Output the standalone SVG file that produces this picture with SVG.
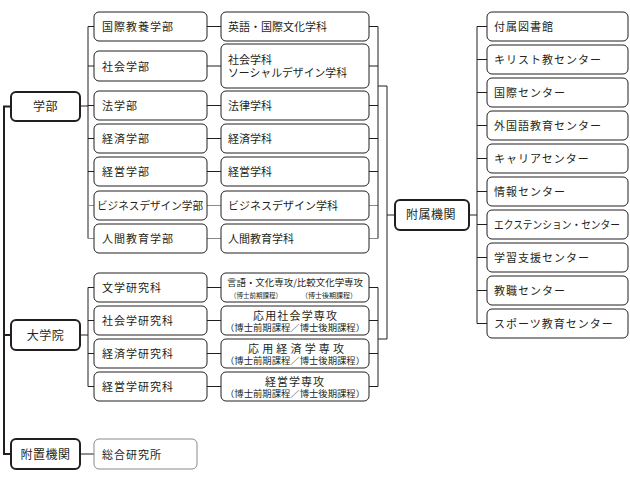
<svg xmlns="http://www.w3.org/2000/svg" width="630" height="480" viewBox="0 0 630 480">
<style>
.b{fill:#fff;stroke:#231f20;stroke-width:1}
.m{fill:#fff;stroke:#231f20;stroke-width:2}
.g{fill:#fff;stroke:#8a8a8a;stroke-width:1}
.t{font-family:"Noto Sans CJK JP","Noto Sans CJK SC",sans-serif;font-size:11px;fill:#231f20}
.s{letter-spacing:1px}
.c{text-anchor:middle}
.L{font-size:12px;letter-spacing:0.5px}
.w{fill:none;stroke:#231f20;stroke-width:1}
.wg{fill:none;stroke:#8a8a8a;stroke-width:1.2}
.wt{fill:none;stroke:#231f20;stroke-width:2}
.p{font-size:9px}
</style>
<rect width="630" height="480" fill="#fff"/>
<g id="connectors">
<path class="wt" d="M11,106.5H4V454H11M4,335H11"/>
<path class="w" d="M80,106H88M88,26.5V238.5M88,26.5H94M88,66H94M88,105.5H94M88,138.5H94M88,171.5H94"/>
<path class="wg" d="M88,205.5H94M88,238.5H94M207,205.5H221M207,238.5H221M369,205.5H378M369,238.5H378"/>
<path class="w" d="M207,26.5H221M207,66H221M207,105.5H221M207,138.5H221M207,171.5H221"/>
<path class="w" d="M369,26.5H378M369,66H378M369,105.5H378M369,138.5H378M369,171.5H378M378,26.5V238.5"/>
<path class="w" d="M378,86H387V339H378M387,215H395"/>
<path class="w" d="M80,335H88M88,287.5V386.5M88,287.5H94M88,320.5H94M88,353.5H94M88,386.5H94"/>
<path class="w" d="M207,287.5H221M207,320.5H221M207,353.5H221M207,386.5H221"/>
<path class="w" d="M369,287.5H378M369,320.5H378M369,353.5H378M369,386.5H378M378,287.5V386.5"/>
<path class="w" d="M469,215H477M477,26.5V323.5M477,26.5H487M477,59.5H487M477,92.5H487M477,125.5H487M477,158.5H487M477,191.5H487M477,224.5H487M477,257.5H487M477,290.5H487M477,323.5H487"/>
<path class="w" d="M80,454H94"/>
</g>
<g id="gakubu"><rect class="m" x="11" y="92" width="69" height="29" rx="5"/><text class="t c L" x="45.5" y="111">学部</text></g>
<g id="daigakuin"><rect class="m" x="11" y="320" width="69" height="30" rx="5"/><text class="t c L" x="45.5" y="339.5">大学院</text></g>
<g id="fuchikikan"><rect class="m" x="11" y="439" width="69" height="30" rx="5"/><text class="t c L" x="45.5" y="458.5">附置機関</text></g>

<g id="f1"><rect class="b" x="94" y="12" width="113" height="29" rx="5"/><text class="t s" x="102" y="31">国際教養学部</text></g>
<g id="f2"><rect class="b" x="94" y="51" width="113" height="30" rx="5"/><text class="t s" x="102" y="70.5">社会学部</text></g>
<g id="f3"><rect class="b" x="94" y="91" width="113" height="29" rx="5"/><text class="t s" x="102" y="110">法学部</text></g>
<g id="f4"><rect class="b" x="94" y="124" width="113" height="29" rx="5"/><text class="t s" x="102" y="143">経済学部</text></g>
<g id="f5"><rect class="b" x="94" y="157" width="113" height="29" rx="5"/><text class="t s" x="102" y="176">経営学部</text></g>
<g id="f6"><rect class="b" x="94" y="191" width="113" height="29" rx="5"/><text class="t" x="97" y="210" textLength="106" lengthAdjust="spacingAndGlyphs">ビジネスデザイン学部</text></g>
<g id="f7"><rect class="b" x="94" y="224" width="113" height="29" rx="5"/><text class="t s" x="102" y="243">人間教育学部</text></g>

<g id="d1"><rect class="b" x="221" y="12" width="148" height="29" rx="5"/><text class="t" x="228" y="31">英語・国際文化学科</text></g>
<g id="d2"><rect class="b" x="221" y="44" width="148" height="44" rx="5"/><text class="t" x="228" y="63.5">社会学科</text><text class="t" x="228" y="77" textLength="119" lengthAdjust="spacingAndGlyphs">ソーシャルデザイン学科</text></g>
<g id="d3"><rect class="b" x="221" y="91" width="148" height="29" rx="5"/><text class="t" x="228" y="110">法律学科</text></g>
<g id="d4"><rect class="b" x="221" y="124" width="148" height="29" rx="5"/><text class="t" x="228" y="143">経済学科</text></g>
<g id="d5"><rect class="b" x="221" y="157" width="148" height="29" rx="5"/><text class="t" x="228" y="176">経営学科</text></g>
<g id="d6"><rect class="b" x="221" y="191" width="148" height="29" rx="5"/><text class="t" x="228" y="210">ビジネスデザイン学科</text></g>
<g id="d7"><rect class="b" x="221" y="224" width="148" height="29" rx="5"/><text class="t" x="228" y="243">人間教育学科</text></g>

<g id="gf1"><rect class="b" x="94" y="273" width="113" height="29" rx="5"/><text class="t s" x="102" y="292">文学研究科</text></g>
<g id="gf2"><rect class="b" x="94" y="306" width="113" height="29" rx="5"/><text class="t s" x="102" y="325">社会学研究科</text></g>
<g id="gf3"><rect class="b" x="94" y="339" width="113" height="29" rx="5"/><text class="t s" x="102" y="358">経済学研究科</text></g>
<g id="gf4"><rect class="b" x="94" y="372" width="113" height="29" rx="5"/><text class="t s" x="102" y="391">経営学研究科</text></g>

<g id="gd1"><rect class="b" x="221" y="273" width="148" height="29" rx="5"/><text class="t" x="227" y="286" style="font-size:9.5px" textLength="136" lengthAdjust="spacingAndGlyphs">言語・文化専攻/比較文化学専攻</text><text class="t" x="230" y="297.5" style="font-size:7px" textLength="52" lengthAdjust="spacingAndGlyphs">（博士前期課程）</text><text class="t" x="301" y="297.5" style="font-size:7px" textLength="56" lengthAdjust="spacingAndGlyphs">（博士後期課程）</text></g>
<g id="gd2"><rect class="b" x="221" y="306" width="148" height="29" rx="5"/><text class="t" x="253" y="319.5" textLength="84" lengthAdjust="spacing">応用社会学専攻</text><text class="t p" x="225" y="331" textLength="140" lengthAdjust="spacingAndGlyphs">（博士前期課程／博士後期課程）</text></g>
<g id="gd3"><rect class="b" x="221" y="339" width="148" height="29" rx="5"/><text class="t" x="248" y="352.5" textLength="96" lengthAdjust="spacing">応用経済学専攻</text><text class="t p" x="225" y="364" textLength="140" lengthAdjust="spacingAndGlyphs">（博士前期課程／博士後期課程）</text></g>
<g id="gd4"><rect class="b" x="221" y="372" width="148" height="29" rx="5"/><text class="t" x="265" y="385.5" textLength="59" lengthAdjust="spacing">経営学専攻</text><text class="t p" x="225" y="397" textLength="140" lengthAdjust="spacingAndGlyphs">（博士前期課程／博士後期課程）</text></g>

<g id="soken"><rect class="g" x="94" y="439" width="103" height="30" rx="5"/><text class="t s" x="102" y="458.5">総合研究所</text></g>

<g id="fuzoku"><rect class="m" x="395" y="200" width="74" height="30" rx="5"/><text class="t c L" x="431" y="218.5">附属機関</text></g>

<g id="c1"><rect class="b" x="487" y="12" width="141" height="29" rx="5"/><text class="t s" x="494" y="31">付属図書館</text></g>
<g id="c2"><rect class="b" x="487" y="45" width="141" height="29" rx="5"/><text class="t s" x="494" y="64">キリスト教センター</text></g>
<g id="c3"><rect class="b" x="487" y="78" width="141" height="29" rx="5"/><text class="t s" x="494" y="97">国際センター</text></g>
<g id="c4"><rect class="b" x="487" y="111" width="141" height="29" rx="5"/><text class="t s" x="494" y="130">外国語教育センター</text></g>
<g id="c5"><rect class="b" x="487" y="144" width="141" height="29" rx="5"/><text class="t s" x="494" y="163">キャリアセンター</text></g>
<g id="c6"><rect class="b" x="487" y="177" width="141" height="29" rx="5"/><text class="t s" x="494" y="196">情報センター</text></g>
<g id="c7"><rect class="b" x="487" y="210" width="141" height="29" rx="5"/><text class="t" x="494" y="229" textLength="126" lengthAdjust="spacingAndGlyphs">エクステンション・センター</text></g>
<g id="c8"><rect class="b" x="487" y="243" width="141" height="29" rx="5"/><text class="t s" x="494" y="262">学習支援センター</text></g>
<g id="c9"><rect class="b" x="487" y="276" width="141" height="29" rx="5"/><text class="t s" x="494" y="295">教職センター</text></g>
<g id="c10"><rect class="b" x="487" y="309" width="141" height="29" rx="5"/><text class="t s" x="494" y="328">スポーツ教育センター</text></g>
</svg>
